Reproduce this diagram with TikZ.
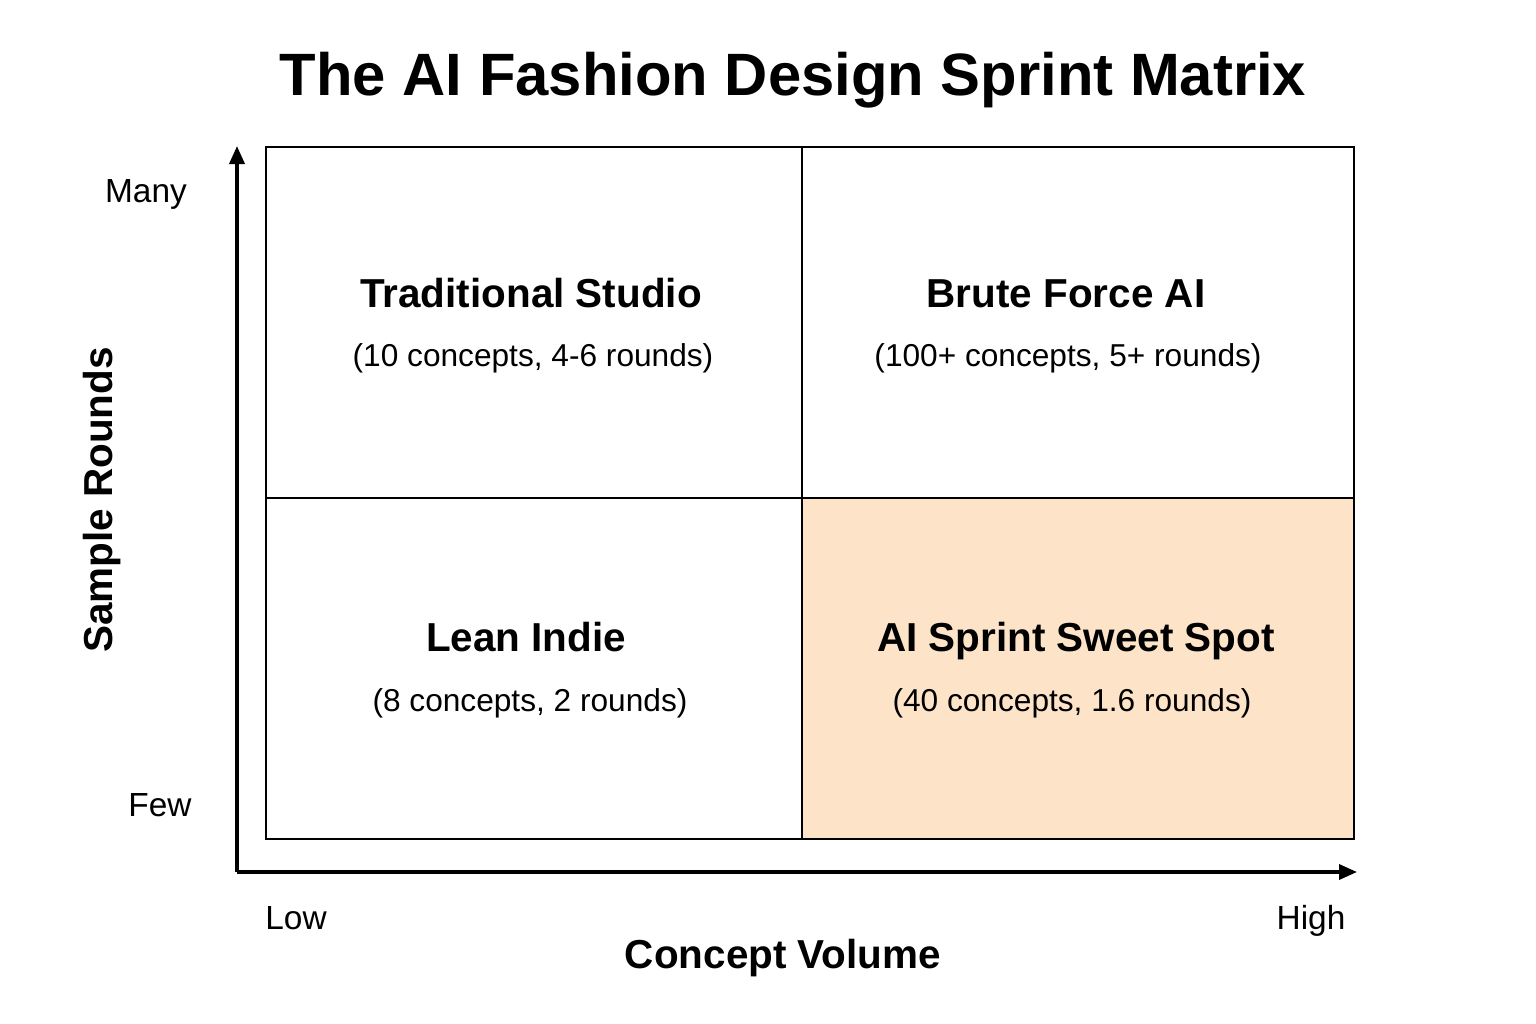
\documentclass[tikz,border=0pt]{standalone}
\usepackage{fontspec}
\setmainfont{Liberation Sans}
\usepackage{xcolor}
\usetikzlibrary{arrows.meta,positioning}
\definecolor{sweetspot}{HTML}{FDE4C8}

\begin{document}
\begin{tikzpicture}[
  x=0.01cm, y=-0.01cm,
  every node/.style={text height=1.38ex, text depth=0pt},
  cell/.style={draw, line width=0.7pt},
  head/.style={font=\fontsize{11.5}{14}\selectfont\bfseries},
  sub/.style={font=\fontsize{9}{11}\selectfont},
  tick/.style={font=\fontsize{9.5}{12}\selectfont},
  axlab/.style={font=\fontsize{11.5}{14}\selectfont\bfseries},
  axis/.style={-{Triangle[length=1.8mm,width=1.5mm]}, line width=1pt}
]
  \useasboundingbox (0,0) rectangle (1536,1024);

  \node[font=\fontsize{17}{21}\selectfont\bfseries] (title) at (793,83) {The AI Fashion Design Sprint Matrix};

  % quadrants
  \draw[cell] (266,147) rectangle (802,498);
  \draw[cell] (802,147) rectangle (1354,498);
  \draw[cell] (266,498) rectangle (802,839);
  \draw[cell, fill=sweetspot] (802,498) rectangle (1354,839);

  \node[head] (trad) at (531,295) {Traditional Studio};
  \node[sub]  (tradsub) at (533,354) {(10 concepts, 4-6 rounds)};
  \node[head] (brute) at (1066,295) {Brute Force AI};
  \node[sub]  (brutesub) at (1068,354) {(100+ concepts, 5+ rounds)};
  \node[head] (lean) at (526,639) {Lean Indie};
  \node[sub]  (leansub) at (530,699) {(8 concepts, 2 rounds)};
  \node[head] (sweet) at (1076,639) {AI Sprint Sweet Spot};
  \node[sub]  (sweetsub) at (1072,699) {(40 concepts, 1.6 rounds)};

  % axes
  \coordinate (origin) at (237,872);
  \coordinate (ytop) at (237,146);
  \coordinate (xend) at (1357,872);
  \draw[axis] (origin) -- (ytop);
  \draw[axis] (origin) -- (xend);

  \node[tick] (many) at (146,190) {Many};
  \node[tick] (few) at (160,804) {Few};
  \node[tick] (low) at (296,917) {Low};
  \node[tick] (high) at (1311,917) {High};

  \node[axlab] (xlab) at (783,956) {Concept Volume};
  \node[axlab, rotate=90] (ylab) at (100,500) {Sample Rounds};
\end{tikzpicture}
\end{document}
